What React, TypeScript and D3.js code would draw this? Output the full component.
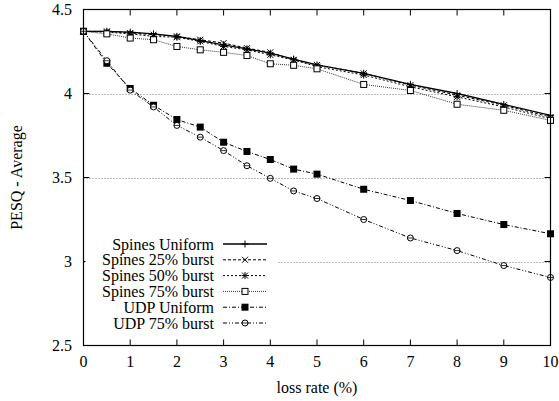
import React from 'react';
import * as d3 from 'd3';

const lossRates = [0, 0.5, 1, 1.5, 2, 2.5, 3, 3.5, 4, 4.5, 5, 6, 7, 8, 9, 10];
const spinesUniform = [4.37, 4.37, 4.365, 4.355, 4.34, 4.315, 4.29, 4.266, 4.24, 4.205, 4.17, 4.12, 4.054, 4.0, 3.935, 3.87];
const spines25 = [4.37, 4.37, 4.36, 4.35, 4.34, 4.32, 4.3, 4.27, 4.245, 4.2, 4.17, 4.12, 4.05, 3.99, 3.93, 3.86];
const spines50 = [4.37, 4.365, 4.355, 4.34, 4.335, 4.31, 4.28, 4.26, 4.23, 4.2, 4.16, 4.11, 4.04, 3.98, 3.92, 3.85];
const spines75 = [4.37, 4.355, 4.33, 4.32, 4.28, 4.26, 4.245, 4.226, 4.177, 4.168, 4.147, 4.054, 4.018, 3.936, 3.9, 3.84];
const udpUniform = [4.37, 4.18, 4.03, 3.93, 3.845, 3.8, 3.71, 3.655, 3.607, 3.55, 3.52, 3.43, 3.363, 3.286, 3.22, 3.165];
const udp75 = [4.37, 4.195, 4.02, 3.92, 3.81, 3.74, 3.66, 3.57, 3.495, 3.42, 3.375, 3.25, 3.14, 3.065, 2.976, 2.905];

const xTicks = [0, 1, 2, 3, 4, 5, 6, 7, 8, 9, 10];
const yTicks = [2.5, 3, 3.5, 4, 4.5];
const gridValues = [3, 3.5, 4];

type Marker = 'plus' | 'cross' | 'star' | 'square' | 'fsquare' | 'circle';
const series: { name: string; values: number[]; dash: string; marker: Marker; width: number }[] = [
  { name: 'Spines Uniform', values: spinesUniform, dash: '', marker: 'plus', width: 1.3 },
  { name: 'Spines 25% burst', values: spines25, dash: '3,2', marker: 'cross', width: 1 },
  { name: 'Spines 50% burst', values: spines50, dash: '2,2', marker: 'star', width: 1 },
  { name: 'Spines 75% burst', values: spines75, dash: '1,1', marker: 'square', width: 0.8 },
  { name: 'UDP Uniform', values: udpUniform, dash: '4,2,1,2', marker: 'fsquare', width: 1 },
  { name: 'UDP 75% burst', values: udp75, dash: '4,2,1,2,1,2', marker: 'circle', width: 1 },
];

const FONT = '"Liberation Serif", "Times New Roman", serif';
const FS = 16;

const MarkerShape = ({ type, x, y }: { type: Marker; x: number; y: number }) => {
  const s = 3.5;
  switch (type) {
    case 'plus':
      return <path d={`M${x - s},${y}H${x + s}M${x},${y - s}V${y + s}`} stroke="#000" strokeWidth={1} />;
    case 'cross':
      return <path d={`M${x - 3},${y - 3}L${x + 3},${y + 3}M${x - 3},${y + 3}L${x + 3},${y - 3}`} stroke="#000" strokeWidth={1} />;
    case 'star':
      return (
        <path
          d={`M${x - 3},${y - 3}L${x + 3},${y + 3}M${x - 3},${y + 3}L${x + 3},${y - 3}M${x - s},${y}H${x + s}M${x},${y - s}V${y + s}`}
          stroke="#000"
          strokeWidth={1}
        />
      );
    case 'square':
      return <rect x={x - 3} y={y - 3} width={6} height={6} fill="#fff" stroke="#000" strokeWidth={1} />;
    case 'fsquare':
      return <rect x={x - 3.5} y={y - 3.5} width={7} height={7} fill="#000" />;
    case 'circle':
      return (
        <g>
          <circle cx={x} cy={y} r={3} fill="#fff" stroke="#000" strokeWidth={1} />
          <path d={`M${x - 3},${y}H${x + 3}`} stroke="#000" strokeWidth={0.8} />
        </g>
      );
  }
};

export default function App() {
  const width = 559;
  const height = 401;
  const left = 83.5;
  const right = 550.5;
  const top = 9.5;
  const bottom = 345.5;

  const x = d3.scaleLinear().domain([0, 10]).range([left, right]);
  const y = d3.scaleLinear().domain([2.5, 4.5]).range([bottom, top]);
  const line = d3.line<number>().x((_, i) => x(lossRates[i])).y(d => y(d));

  const legendTextX = 214;
  const sampleX1 = 223;
  const sampleX2 = 267;
  const legendY0 = 244;
  const legendStep = 15.8;

  return (
    <svg
      width={width}
      height={height}
      style={{ position: 'absolute', left: 0, top: 0, background: '#fff' }}
      fontFamily={FONT}
    >
      <rect width={width} height={height} fill="#fff" />
      {/* grid */}
      {gridValues.map(v => (
        <line key={v} x1={left} x2={right} y1={Math.round(y(v)) + 0.5} y2={Math.round(y(v)) + 0.5} stroke="#555" strokeWidth={0.8} strokeDasharray="1,2" />
      ))}
      {/* ticks */}
      {xTicks.map(t => (
        <g key={'x' + t}>
          <line x1={x(t)} x2={x(t)} y1={bottom} y2={bottom - 6} stroke="#000" />
          <line x1={x(t)} x2={x(t)} y1={top} y2={top + 6} stroke="#000" />
          <text x={x(t)} y={367} textAnchor="middle" fontSize={FS}>{t}</text>
        </g>
      ))}
      {yTicks.map(t => (
        <g key={'y' + t}>
          <line x1={left} x2={left + 6} y1={y(t)} y2={y(t)} stroke="#000" />
          <line x1={right} x2={right - 6} y1={y(t)} y2={y(t)} stroke="#000" />
          <text x={72} y={y(t) + 5.5} textAnchor="end" fontSize={FS}>{t}</text>
        </g>
      ))}
      {/* series */}
      {series.map(s => (
        <g key={s.name}>
          <path d={line(s.values) || ''} fill="none" stroke="#000" strokeWidth={s.width} strokeDasharray={s.dash} />
          {s.values.map((v, i) => (
            <MarkerShape key={i} type={s.marker} x={x(lossRates[i])} y={y(v)} />
          ))}
        </g>
      ))}
      {/* legend */}
      <rect x={left + 2} y={236} width={192} height={96} fill="#fff" />
      {series.map((s, i) => {
        const ly = legendY0 + i * legendStep;
        return (
          <g key={'l' + s.name}>
            <text x={legendTextX} y={ly + 5.5} textAnchor="end" fontSize={FS}>{s.name}</text>
            <line x1={sampleX1} x2={sampleX2} y1={ly} y2={ly} stroke="#000" strokeWidth={s.width} strokeDasharray={s.dash} />
            <MarkerShape type={s.marker} x={(sampleX1 + sampleX2) / 2} y={ly} />
          </g>
        );
      })}
      {/* frame */}
      <rect x={left} y={top} width={right - left} height={bottom - top} fill="none" stroke="#000" strokeWidth={1.2} />
      <text x={(left + right) / 2} y={393} textAnchor="middle" fontSize={FS}>loss rate (%)</text>
      <text transform={`translate(22,${(top + bottom) / 2}) rotate(-90)`} textAnchor="middle" fontSize={FS}>PESQ - Average</text>
    </svg>
  );
}
